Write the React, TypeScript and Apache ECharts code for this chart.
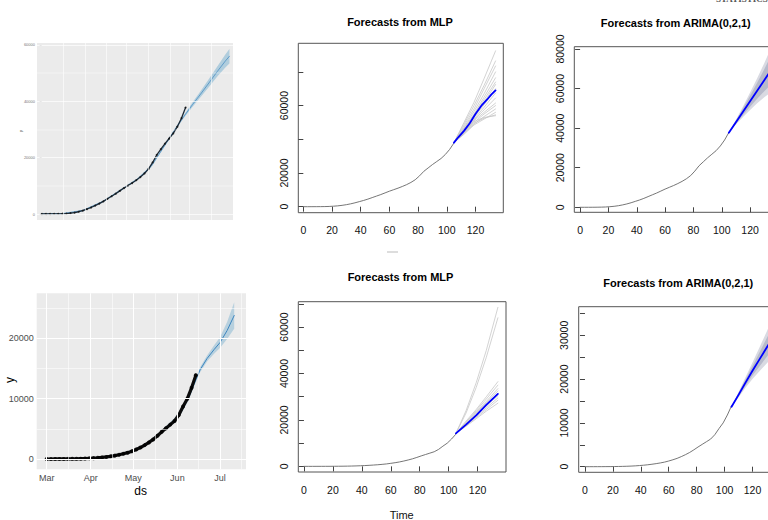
import React, { useEffect, useRef } from "react";
import * as echarts from "echarts";

// ---------- DATA ----------
// historical day index (every 3 days)
const DAYS = [0, 3, 6, 9, 12, 15, 18, 21, 24, 27, 30, 33, 36, 39, 42, 45, 48, 51, 54, 57, 60, 63, 66, 69, 72, 75, 78, 81, 84, 87, 90, 93, 96, 99, 102, 105];
// country A (top row) cumulative cases
const CASES_A = [0, 5, 10, 20, 40, 80, 150, 300, 500, 800, 1200, 1700, 2300, 3000, 3700, 4500, 5400, 6300, 7200, 8200, 9200, 10100, 11000, 12000, 13100, 14400, 16000, 18300, 21000, 23000, 25000, 26800, 28600, 31000, 34000, 37800];
// country B (bottom row) cumulative cases
const CASES_B = [0, 2, 5, 8, 12, 18, 25, 35, 50, 70, 100, 140, 190, 260, 340, 440, 560, 700, 860, 1050, 1300, 1580, 1900, 2300, 2750, 3250, 3850, 4500, 5100, 5700, 6300, 7300, 8700, 10000, 11800, 13900];

// Prophet fits (top-left, bottom-left)
const PROPHET_T_A = [0, 15, 30, 45, 60, 70, 80, 90, 100, 104, 110, 116, 122, 128, 134, 137];
const PROPHET_MEAN_A = [0, 80, 1200, 4500, 9200, 12400, 17000, 24500, 32000, 34800, 38800, 42600, 46500, 50500, 54300, 56000];
const PROPHET_HI_A = [250, 330, 1500, 4800, 9550, 12750, 17400, 24900, 32450, 35300, 39600, 43700, 47900, 52300, 56600, 58600];
const PROPHET_LO_A = [-250, -170, 900, 4200, 8850, 12050, 16600, 24100, 31550, 34300, 38000, 41500, 45100, 48700, 52000, 53400];

const PROPHET_T_B = [0, 15, 30, 45, 60, 70, 80, 90, 95, 100, 103, 108, 113, 118, 122, 127, 132];
const PROPHET_MEAN_B = [0, 10, 90, 420, 1250, 2350, 4300, 6400, 8000, 10200, 12000, 14800, 16700, 18200, 19300, 21300, 23800];
const PROPHET_HI_B = [150, 160, 250, 600, 1450, 2600, 4600, 6800, 8400, 10600, 12400, 15200, 17200, 18900, 20200, 22700, 26000];
const PROPHET_LO_B = [-150, -140, -70, 240, 1050, 2100, 4000, 6000, 7600, 9800, 11600, 14400, 16200, 17500, 18400, 19900, 21600];

const MONTH_TICKS = [0, 31, 61, 92, 122];
const MONTH_LABELS = ["Mar", "Apr", "May", "Jun", "Jul"];

// MLP forecasts
const MLP_T = [105, 112, 119, 126, 134];
const MLP_MEAN_T_A = [105, 108, 112, 116, 120, 124, 128, 131, 134];
const MLP_MEAN_A = [38000, 41200, 45000, 49500, 55000, 59800, 63500, 66500, 69000];
const MLP_SIMS_A = [
  [38000, 50000, 62000, 76000, 92500],
  [38000, 49000, 60000, 72000, 86500],
  [38000, 48000, 58000, 70000, 83500],
  [38000, 47000, 56500, 67000, 80000],
  [38000, 46500, 55000, 65000, 76500],
  [38000, 46000, 54500, 63500, 74000],
  [38000, 45500, 54000, 62000, 72500],
  [38000, 45000, 53000, 60500, 70000],
  [38000, 44500, 52000, 59000, 67500],
  [38000, 44000, 51500, 57500, 64500],
  [38000, 44500, 51000, 56000, 61500],
  [38000, 44000, 50000, 55000, 60000],
  [38000, 43500, 49000, 53500, 58000],
  [38000, 43000, 48500, 52000, 56000],
  [38000, 43500, 49500, 52500, 54500],
  [38000, 44000, 50500, 53000, 54000],
];
const MLP_MEAN_B = [14200, 18000, 22000, 26500, 31200];
const MLP_SIMS_B = [
  [14200, 24000, 36000, 50000, 68500],
  [14200, 23000, 34000, 47000, 64000],
  [14200, 19500, 24500, 30000, 36500],
  [14200, 19000, 24000, 29000, 35000],
  [14200, 18800, 23500, 28000, 33500],
  [14200, 18500, 23000, 27500, 32500],
  [14200, 18300, 22500, 26800, 31500],
  [14200, 18000, 22000, 26000, 30500],
  [14200, 17800, 21500, 25200, 29500],
  [14200, 17500, 21000, 24500, 28500],
  [14200, 17300, 20500, 23800, 27200],
];

// ARIMA(0,2,1) forecasts
const ARIMA_T = [105, 110, 115, 120, 125, 130, 135];
const ARIMA_MEAN_A = [37700, 43000, 48300, 53600, 58900, 64200, 69500];
const ARIMA_HI80_A = [37700, 43800, 50000, 56400, 63000, 69800, 76800];
const ARIMA_LO80_A = [37700, 42200, 46600, 50800, 54800, 58600, 62200];
const ARIMA_HI95_A = [37700, 44200, 51000, 58000, 65200, 72800, 80800];
const ARIMA_LO95_A = [37700, 41800, 45600, 49200, 52600, 55600, 58200];
const ARIMA_MEAN_B = [13700, 16400, 19200, 21900, 24500, 27100, 29700];
const ARIMA_HI80_B = [13700, 16800, 19900, 23000, 26100, 29200, 32300];
const ARIMA_LO80_B = [13700, 16000, 18500, 20800, 22900, 25000, 27100];
const ARIMA_HI95_B = [13700, 17000, 20400, 23800, 27200, 30700, 34200];
const ARIMA_LO95_B = [13700, 15800, 18000, 20000, 21800, 23500, 25200];

// tick values
const R_X_TICKS = [0, 20, 40, 60, 80, 100, 120];
const MLP_A_Y_TICKS = [0, 20000, 40000, 60000, 80000];
const MLP_A_Y_LABELS = [0, 20000, 60000];
const ARIMA_A_Y_TICKS = [0, 20000, 40000, 60000, 80000];
const MLP_B_Y_TICKS = [0, 10000, 20000, 30000, 40000, 50000, 60000, 70000];
const MLP_B_Y_LABELS = [0, 20000, 40000, 60000];
const ARIMA_B_Y_TICKS = [0, 5000, 10000, 15000, 20000, 25000, 30000, 35000];
const ARIMA_B_Y_LABELS = [0, 10000, 20000, 30000];
const PROPHET_A_Y_TICKS = [0, 20000, 40000, 60000];
const PROPHET_B_Y_TICKS = [0, 10000, 20000];

// ggplot grid lines
const GRID_X_A = [15.8, 31.6, 47, 62, 77.8, 93.6, 108, 124];
const GRID_Y_MAJ_A = [0, 20000, 40000, 60000];
const GRID_Y_MIN_A = [10000, 30000, 50000];
const GRID_X_MIN_B = [15.5, 46, 76.5, 107, 137];
const GRID_Y_MIN_B = [5000, 15000, 25000];

const R_FONT = "Liberation Sans, Arial, sans-serif";

const zip = (xs: number[], ys: number[]) => xs.map((x, i) => [x, ys[i]]);

function rX(gi: number, min: number, max: number, margin: number) {
  return {
    type: "value", gridIndex: gi, min, max,
    axisLine: { show: false },
    axisTick: { show: true, customValues: R_X_TICKS, length: 5, lineStyle: { color: "#444" } },
    axisLabel: { customValues: R_X_TICKS, fontSize: 10.5, color: "#111", fontFamily: R_FONT, margin, formatter: (v: number) => String(v) },
    splitLine: { show: false },
  };
}
function rY(gi: number, min: number, max: number, ticks: number[], labels: number[], margin: number) {
  return {
    type: "value", gridIndex: gi, min, max,
    axisLine: { show: false },
    axisTick: { show: true, customValues: ticks, length: 5, lineStyle: { color: "#444" } },
    axisLabel: { customValues: labels, rotate: 90, fontSize: 10.5, color: "#111", fontFamily: R_FONT, margin, formatter: (v: number) => String(v) },
    splitLine: { show: false },
  };
}

function band(ax: number, xs: number[], lo: number[], hi: number[], color: string, z: number) {
  return {
    type: "custom", xAxisIndex: ax, yAxisIndex: ax, z, silent: true,
    data: [[xs[0], lo[0]]],
    renderItem: (_p: any, api: any) => {
      const pts: number[][] = [];
      for (let i = 0; i < xs.length; i++) pts.push(api.coord([xs[i], hi[i]]));
      for (let i = xs.length - 1; i >= 0; i--) pts.push(api.coord([xs[i], lo[i]]));
      return { type: "polygon", shape: { points: pts }, style: { fill: color } };
    },
  };
}
function line(ax: number, data: number[][], color: string, width: number, z: number) {
  return { type: "line", xAxisIndex: ax, yAxisIndex: ax, data, showSymbol: false, symbol: "none", lineStyle: { color, width, join: "round", cap: "round" }, z, silent: true };
}
function gridLines(ax: number, items: any[], x0: number, y0: number) {
  return {
    type: "line", xAxisIndex: ax, yAxisIndex: ax, data: [[x0, y0]], showSymbol: false, symbol: "none", lineStyle: { opacity: 0 }, z: 1, silent: true,
    markLine: { silent: true, symbol: ["none", "none"], label: { show: false }, animation: false, data: items },
  };
}

export default function App() {
  const ref = useRef<HTMLDivElement>(null);
  useEffect(() => {
    if (!ref.current) return;
    const chart = echarts.init(ref.current, null, { renderer: "svg" });
    const gBase = { show: true, outerBoundsMode: "none", containLabel: false };
    const rGrid = { ...gBase, borderColor: "#555", borderWidth: 1, backgroundColor: "transparent" };
    const ggGrid = { ...gBase, borderWidth: 0, backgroundColor: "#EBEBEB" };

    const histA = zip(DAYS, CASES_A);
    const histB = zip(DAYS, CASES_B);

    const wl = (v: number, axis: string, w: number) => ({ [axis]: v, lineStyle: { color: "#FFFFFF", width: w, type: "solid" } });

    const series: any[] = [];
    // ---- Panel 0: prophet A
    series.push(gridLines(0, [
      ...GRID_X_A.map((v) => wl(v, "xAxis", 0.6)),
      ...GRID_Y_MAJ_A.map((v) => wl(v, "yAxis", 0.7)),
      ...GRID_Y_MIN_A.map((v) => wl(v, "yAxis", 0.4)),
    ], 0, 0));
    series.push(band(0, PROPHET_T_A, PROPHET_LO_A, PROPHET_HI_A, "rgba(0,114,178,0.25)", 2));
    series.push(line(0, zip(PROPHET_T_A, PROPHET_MEAN_A), "#3d86c0", 0.7, 3));
    series.push(line(0, histA, "#1d2b38", 1.3, 4));
    series.push({ type: "scatter", xAxisIndex: 0, yAxisIndex: 0, data: histA, symbolSize: 2, itemStyle: { color: "#111" }, z: 4, silent: true });

    // ---- Panel 1: MLP A
    series.push(line(1, histA, "#666", 0.9, 2));
    MLP_SIMS_A.forEach((s) => series.push(line(1, zip(MLP_T, s), "rgba(200,200,200,0.8)", 1, 2)));
    series.push(line(1, zip(MLP_MEAN_T_A, MLP_MEAN_A), "#0000FF", 1.8, 5));

    // ---- Panel 2: ARIMA A
    series.push(line(2, histA, "#666", 0.9, 2));
    series.push(band(2, ARIMA_T, ARIMA_LO95_A, ARIMA_HI95_A, "#D9DAE2", 2));
    series.push(band(2, ARIMA_T, ARIMA_LO80_A, ARIMA_HI80_A, "#B7BACB", 3));
    series.push(line(2, zip(ARIMA_T, ARIMA_MEAN_A), "#0000FF", 1.8, 5));

    // ---- Panel 3: prophet B
    series.push(gridLines(3, [
      ...MONTH_TICKS.map((v) => wl(v, "xAxis", 1.1)),
      ...GRID_X_MIN_B.map((v) => wl(v, "xAxis", 0.55)),
      ...PROPHET_B_Y_TICKS.map((v) => wl(v, "yAxis", 1.1)),
      ...GRID_Y_MIN_B.map((v) => wl(v, "yAxis", 0.55)),
    ], 0, 0));
    series.push(band(3, PROPHET_T_B, PROPHET_LO_B, PROPHET_HI_B, "rgba(0,114,178,0.22)", 2));
    series.push(line(3, zip(PROPHET_T_B, PROPHET_MEAN_B), "#3d86c0", 1, 3));
    series.push(line(3, histB, "#0c0c0c", 3.2, 4));
    series.push({ type: "scatter", xAxisIndex: 3, yAxisIndex: 3, data: histB, symbolSize: 4, itemStyle: { color: "#000" }, z: 4, silent: true });

    // ---- Panel 4: MLP B
    series.push(line(4, histB, "#666", 0.9, 2));
    MLP_SIMS_B.forEach((s) => series.push(line(4, zip(MLP_T, s), "rgba(200,200,200,0.8)", 1, 2)));
    series.push(line(4, zip(MLP_T, MLP_MEAN_B), "#0000FF", 1.8, 5));

    // ---- Panel 5: ARIMA B
    series.push(line(5, histB, "#666", 0.9, 2));
    series.push(band(5, ARIMA_T, ARIMA_LO95_B, ARIMA_HI95_B, "#D9DAE2", 2));
    series.push(band(5, ARIMA_T, ARIMA_LO80_B, ARIMA_HI80_B, "#B7BACB", 3));
    series.push(line(5, zip(ARIMA_T, ARIMA_MEAN_B), "#0000FF", 1.8, 5));

    const ggTick = { show: true, length: 3, lineStyle: { color: "#333", width: 1 } };

    const option: any = {
      animation: false,
      backgroundColor: "#FFFFFF",
      grid: [
        { ...ggGrid, left: 37, top: 43, width: 196, height: 177 },
        { ...rGrid, left: 298.3, top: 43.3, width: 205, height: 169.4 },
        { ...rGrid, left: 574.3, top: 46.7, width: 202.7, height: 165.6 },
        { ...ggGrid, left: 36.7, top: 293.3, width: 209.3, height: 176 },
        { ...rGrid, left: 298.3, top: 301.7, width: 207.7, height: 170.3 },
        { ...rGrid, left: 578.7, top: 306.7, width: 201, height: 165.6 },
      ],
      xAxis: [
        { type: "value", gridIndex: 0, min: -3.4, max: 139.6, axisLine: { show: false }, axisTick: { show: false }, axisLabel: { show: false }, splitLine: { show: false } },
        rX(1, -3.5, 139.4, 12),
        rX(2, -4.1, 139, 12),
        {
          type: "value", gridIndex: 3, min: -7, max: 140.3, axisLine: { show: false },
          axisTick: { ...ggTick, customValues: MONTH_TICKS },
          axisLabel: { customValues: MONTH_TICKS, fontSize: 9, color: "#4D4D4D", fontFamily: R_FONT, margin: 4, formatter: (v: number) => MONTH_LABELS[MONTH_TICKS.indexOf(Math.round(v))] },
          splitLine: { show: false },
        },
        rX(4, -3.9, 139.6, 12),
        rX(5, -4.5, 139.5, 12),
      ],
      yAxis: [
        {
          type: "value", gridIndex: 0, min: -2130, max: 60710, axisLine: { show: false },
          axisTick: { show: true, length: 2, customValues: PROPHET_A_Y_TICKS, lineStyle: { color: "#666", width: 0.5 } },
          axisLabel: { customValues: PROPHET_A_Y_TICKS, fontSize: 4, color: "#777", fontFamily: R_FONT, margin: 2, formatter: (v: number) => String(v) },
          splitLine: { show: false },
        },
        rY(1, -3560, 96980, MLP_A_Y_TICKS, MLP_A_Y_LABELS, 9),
        rY(2, -2530, 81160, ARIMA_A_Y_TICKS, ARIMA_A_Y_TICKS, 9),
        {
          type: "value", gridIndex: 3, min: -1710, max: 27480, axisLine: { show: false },
          axisTick: { ...ggTick, customValues: PROPHET_B_Y_TICKS },
          axisLabel: { customValues: PROPHET_B_Y_TICKS, fontSize: 9, color: "#4D4D4D", fontFamily: R_FONT, margin: 3, formatter: (v: number) => String(v) },
          splitLine: { show: false },
        },
        rY(4, -2430, 70950, MLP_B_Y_TICKS, MLP_B_Y_LABELS, 9),
        rY(5, -1280, 36530, ARIMA_B_Y_TICKS, ARIMA_B_Y_LABELS, 9),
      ],
      series,
      graphic: [
        { type: "text", x: 400, y: 21.7, style: { text: "Forecasts from MLP", fontSize: 11, fontWeight: "bold", fontFamily: R_FONT, fill: "#000", align: "center", verticalAlign: "middle" } },
        { type: "text", x: 675.8, y: 23.3, style: { text: "Forecasts from ARIMA(0,2,1)", fontSize: 11, fontWeight: "bold", fontFamily: R_FONT, fill: "#000", align: "center", verticalAlign: "middle" } },
        { type: "text", x: 400.5, y: 276.7, style: { text: "Forecasts from MLP", fontSize: 11, fontWeight: "bold", fontFamily: R_FONT, fill: "#000", align: "center", verticalAlign: "middle" } },
        { type: "text", x: 678.3, y: 283.3, style: { text: "Forecasts from ARIMA(0,2,1)", fontSize: 11, fontWeight: "bold", fontFamily: R_FONT, fill: "#000", align: "center", verticalAlign: "middle" } },
        { type: "text", x: 401.7, y: 515, style: { text: "Time", fontSize: 11, fontFamily: R_FONT, fill: "#111", align: "center", verticalAlign: "middle" } },
        { type: "text", x: 140.7, y: 491, style: { text: "ds", fontSize: 12, fontFamily: R_FONT, fill: "#000", align: "center", verticalAlign: "middle" } },
        { type: "text", x: 10, y: 380, rotation: Math.PI / 2, style: { text: "y", fontSize: 12, fontFamily: R_FONT, fill: "#000", align: "center", verticalAlign: "middle" } },
        { type: "text", x: 20, y: 131, rotation: Math.PI / 2, style: { text: "y", fontSize: 4, fontFamily: R_FONT, fill: "#444", align: "center", verticalAlign: "middle" } },
        { type: "text", x: 716, y: 3, style: { text: "STATISTICS", fontSize: 9, fontWeight: "bold", fontFamily: "Liberation Serif, serif", fill: "#555", align: "left", verticalAlign: "bottom" } },
        { type: "line", shape: { x1: 387, y1: 252, x2: 398, y2: 252 }, style: { stroke: "#bbb", lineWidth: 1 } },
      ],
    };
    chart.setOption(option);
    return () => chart.dispose();
  }, []);
  return <div ref={ref} style={{ position: "absolute", left: 0, top: 0, width: 768, height: 520, background: "#fff" }} />;
}
